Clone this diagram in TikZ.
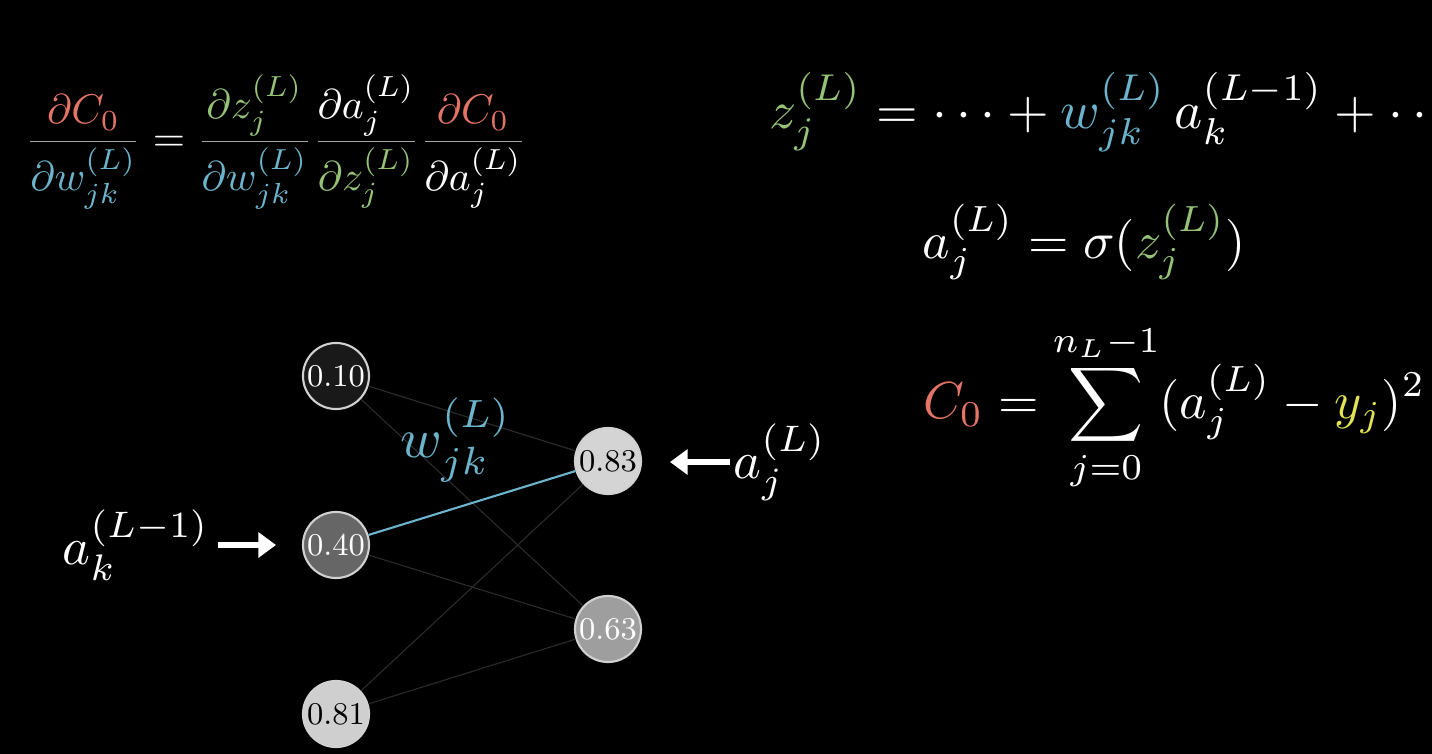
\documentclass[tikz,border=0pt]{standalone}
\usepackage{amsmath}
\usetikzlibrary{arrows.meta}
\definecolor{costred}{RGB}{228,116,102}
\definecolor{wblue}{RGB}{108,180,204}
\definecolor{zgreen}{RGB}{150,194,120}
\definecolor{yyellow}{RGB}{226,226,84}
\definecolor{barg}{RGB}{165,165,165}
\definecolor{edgeg}{RGB}{45,45,45}

\begin{document}
\begin{tikzpicture}[x=0.01cm,y=-0.01cm,
  neuron/.style={circle,draw=white!82!black,line width=0.6pt,minimum size=0.66cm,
    inner sep=0pt,font=\small},
  weight/.style={edgeg,line width=0.3pt},
  bigarrow/.style={white,line width=1.5pt,-{Triangle[length=5pt,width=7pt]}},
  eqn/.style={text=white,inner sep=0pt}]
  % background
  \fill[black] (0,0) rectangle (1432,754);
  \useasboundingbox (0,0) rectangle (1432,754);
  % neurons, layer L-1 and layer L
  \node[neuron,fill=black!90,text=white] (k0) at (336,376) {0.10};
  \node[neuron,fill=black!60,text=white] (k1) at (336,545) {0.40};
  \node[neuron,fill=black!19] (k2) at (336,714) {0.81};
  \node[neuron,fill=black!17] (j0) at (608,461) {0.83};
  \node[neuron,fill=black!38,text=white] (j1) at (608,629) {0.63};
  % weights
  \draw[weight] (k0) -- (j0);
  \draw[weight] (k0) -- (j1);
  \draw[weight] (k1) -- (j1);
  \draw[weight] (k2) -- (j0);
  \draw[weight] (k2) -- (j1);
  \draw[wblue,line width=0.6pt] (k1) -- (j0);
  \node[text=wblue,scale=1.6] (wlab) at (456,440) {$w^{(L)}_{jk}$};
  % activations
  \node[eqn,scale=1.5] (ak) at (136,545) {$a^{(L-1)}_k$};
  \node[eqn,scale=1.5] (aj) at (780,462) {$a^{(L)}_j$};
  \coordinate (akout) at (218,545);
  \coordinate (aktip) at (276,545);
  \draw[bigarrow] (akout) -- (aktip);
  \coordinate (ajin) at (730,462);
  \coordinate (ajtip) at (670,462);
  \draw[bigarrow] (ajin) -- (ajtip);
  % chain rule
  \node[text=barg,inner sep=0pt,scale=1.18] (chain) at (276,142)
    {$\dfrac{\color{costred}\partial C_0}{\color{wblue}\partial w^{(L)}_{jk}}
      \mathrel{\color{white}=}
      \dfrac{\color{zgreen}\partial z^{(L)}_j}{\color{wblue}\partial w^{(L)}_{jk}}
      \dfrac{\color{white}\partial a^{(L)}_j}{\color{zgreen}\partial z^{(L)}_j}
      \dfrac{\color{costred}\partial C_0}{\color{white}\partial a^{(L)}_j}$};
  % right hand equations
  \node[eqn,anchor=west,scale=1.52] (zeq) at (768,112)
    {$\color{zgreen}z^{(L)}_j\color{white} = \cdots + {\color{wblue}w^{(L)}_{jk}}\, a^{(L-1)}_k + \cdots$};
  \node[eqn,scale=1.48] (aeq) at (1084,242)
    {$a^{(L)}_j = \sigma({\color{zgreen}z^{(L)}_j})$};
  \node[eqn,anchor=west,scale=1.48] (ceq) at (922,408)
    {$\displaystyle {\color{costred}C_0} = \sum_{j=0}^{n_L-1}(a^{(L)}_j - {\color{yyellow}y_j})^2$};
\end{tikzpicture}
\end{document}
